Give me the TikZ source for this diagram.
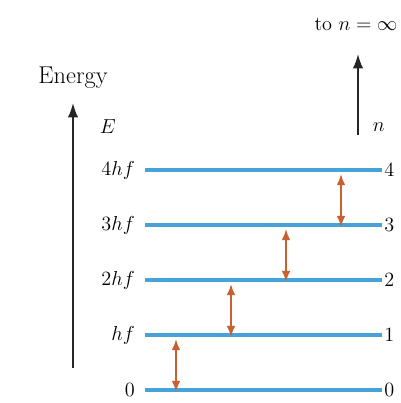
\documentclass[tikz,border=0pt]{standalone}
\usepackage{amsmath,amssymb}
\usepackage{xcolor}
\usepackage{tikz}
\usetikzlibrary{arrows.meta,positioning}
\definecolor{lvlBlue}{HTML}{48A2DA}
\definecolor{jumpOrange}{HTML}{C8602F}
\tikzset{
  lvl/.style={draw=lvlBlue,line width=3.2pt},
  elab/.style={font=\Large,inner sep=0pt},
  nlab/.style={font=\Large,inner sep=0pt},
  jump/.style={{Latex[length=2.8mm,width=2.2mm]}-{Latex[length=2.8mm,width=2.2mm]},
    draw=jumpOrange,line width=1.4pt},
  axis/.style={-{Latex[length=3.6mm,width=2.6mm]},line width=1.3pt,draw=black!85},
}
\begin{document}
\begin{tikzpicture}[x=0.025cm,y=-0.025cm,font=\Large,node distance=1.5mm]
\clip (0,0) rectangle (401,403);
% level lines
\coordinate (l0a) at (145,390); \coordinate (l0b) at (382,390);
\coordinate (l1a) at (145,335); \coordinate (l1b) at (382,335);
\coordinate (l2a) at (145,280); \coordinate (l2b) at (382,280);
\coordinate (l3a) at (145,225); \coordinate (l3b) at (382,225);
\coordinate (l4a) at (145,170); \coordinate (l4b) at (382,170);
\draw[lvl] (l0a)--(l0b); \draw[lvl] (l1a)--(l1b); \draw[lvl] (l2a)--(l2b);
\draw[lvl] (l3a)--(l3b); \draw[lvl] (l4a)--(l4b);
\node[elab,left=2.5mm of l0a] (e0) {$0$};
\node[elab,left=2.5mm of l1a] (e1) {$hf$};
\node[elab,left=2.5mm of l2a] (e2) {$2hf$};
\node[elab,left=2.5mm of l3a] (e3) {$3hf$};
\node[elab,left=2.5mm of l4a] (e4) {$4hf$};
\node[nlab,right=0.5mm of l0b] (n0) {0};
\node[nlab,right=0.5mm of l1b] (n1) {1};
\node[nlab,right=0.5mm of l2b] (n2) {2};
\node[nlab,right=0.5mm of l3b] (n3) {3};
\node[nlab,right=0.5mm of l4b] (n4) {4};
% transitions
\coordinate (j1s) at (176,392); \coordinate (j1e) at (176,339);
\coordinate (j2s) at (231,337); \coordinate (j2e) at (231,284);
\coordinate (j3s) at (286,282); \coordinate (j3e) at (286,229);
\coordinate (j4s) at (341,227); \coordinate (j4e) at (341,174);
\draw[jump] (j1s)--(j1e); \draw[jump] (j2s)--(j2e);
\draw[jump] (j3s)--(j3e); \draw[jump] (j4s)--(j4e);
% axes
\coordinate (ebot) at (73,368); \coordinate (etop) at (73,103);
\draw[axis] (ebot)--(etop);
\node[above=2.5mm of etop,font=\LARGE] (energy) {Energy};
\node[anchor=west] (E) at (95,127) {$E$};
\coordinate (nbot) at (358,135); \coordinate (ntop) at (358,54);
\draw[axis] (nbot)--(ntop);
\node[above=4.5mm of ntop,xshift=-0.5mm] (inf) {to $n=\infty$};
\node[anchor=west] (n) at (368,127) {$n$};
\end{tikzpicture}
\end{document}
